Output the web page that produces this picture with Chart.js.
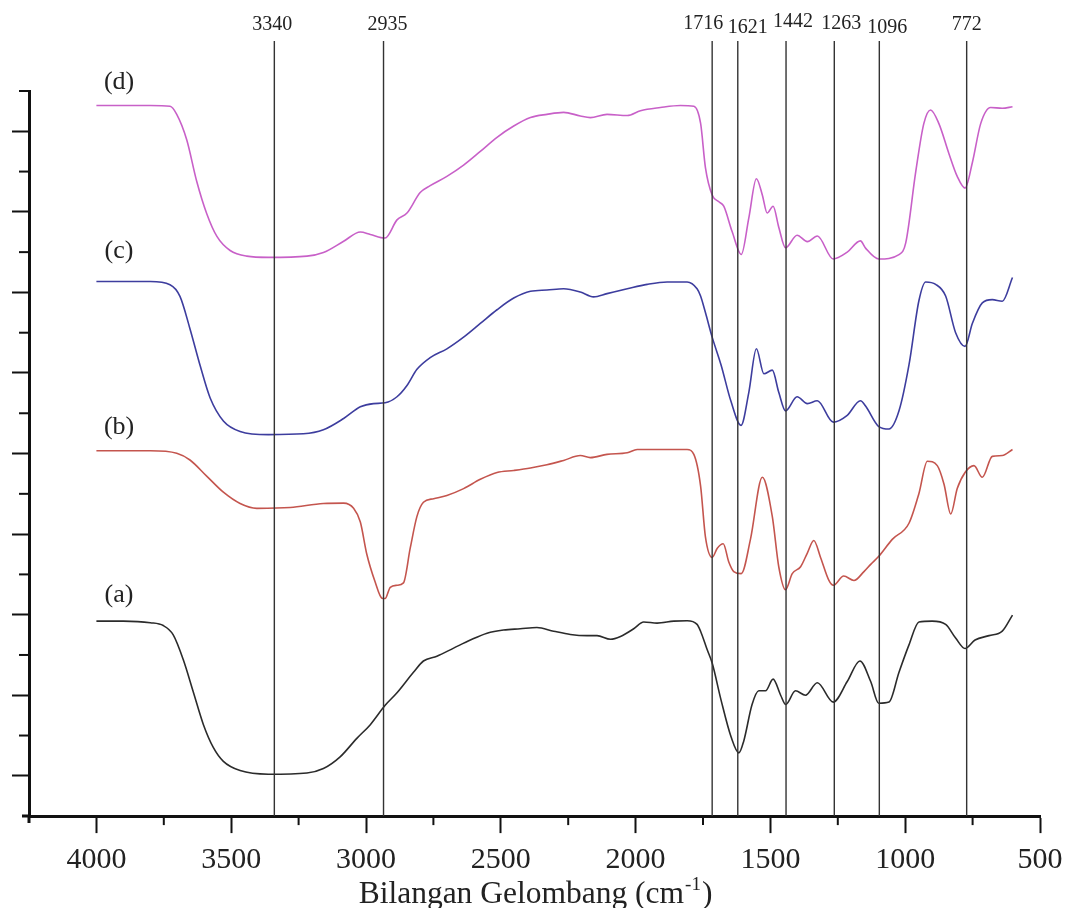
<!DOCTYPE html>
<html>
<head>
<meta charset="utf-8">
<script src="https://cdn.jsdelivr.net/npm/chart.js@4.4.0/dist/chart.umd.min.js"></script>
<style>
  html, body { margin: 0; padding: 0; background: #fff; }
  #wrap { width: 1067px; height: 908px; }
</style>
</head>
<body>
<div id="wrap"><canvas id="ftir" width="1067" height="908"></canvas></div>
<script>
// wavenumbers (cm-1) and offset transmittance, one pair per spectrum
const waveA = [4000, 3900, 3800, 3752, 3715, 3677, 3640, 3603, 3566, 3529, 3467, 3362, 3219, 3158, 3096, 3034, 2984, 2929, 2885, 2824, 2787, 2737, 2675, 2613, 2551, 2490, 2428, 2366, 2304, 2242, 2180, 2143, 2093, 2056, 2007, 1970, 1920, 1858, 1809, 1772, 1759, 1735, 1716, 1683, 1646, 1617, 1599, 1568, 1543, 1518, 1490, 1462, 1443, 1407, 1370, 1326, 1267, 1215, 1168, 1128, 1098, 1060, 1023, 986, 949, 900, 850, 813, 778, 741, 689, 640, 602]
const valA = [4.84, 4.84, 4.80, 4.73, 4.50, 3.87, 3.07, 2.27, 1.70, 1.36, 1.13, 1.04, 1.07, 1.18, 1.47, 1.93, 2.27, 2.75, 3.06, 3.57, 3.85, 3.97, 4.17, 4.37, 4.54, 4.62, 4.65, 4.68, 4.59, 4.51, 4.48, 4.48, 4.39, 4.46, 4.65, 4.82, 4.79, 4.84, 4.85, 4.76, 4.59, 4.14, 3.80, 2.88, 1.97, 1.57, 1.86, 2.77, 3.11, 3.11, 3.40, 3.00, 2.77, 3.11, 3.00, 3.31, 2.83, 3.34, 3.85, 3.34, 2.80, 2.83, 3.57, 4.25, 4.82, 4.84, 4.76, 4.42, 4.16, 4.37, 4.48, 4.59, 4.99]

const waveB = [4000, 3800, 3702, 3653, 3591, 3529, 3467, 3405, 3281, 3158, 3083, 3046, 3021, 2997, 2966, 2941, 2929, 2910, 2885, 2861, 2836, 2811, 2787, 2749, 2700, 2638, 2576, 2514, 2452, 2390, 2329, 2267, 2205, 2168, 2106, 2031, 1994, 1896, 1809, 1784, 1759, 1741, 1716, 1697, 1675, 1654, 1636, 1608, 1574, 1530, 1493, 1469, 1444, 1419, 1388, 1363, 1339, 1314, 1283, 1267, 1228, 1190, 1153, 1128, 1098, 1048, 986, 949, 918, 881, 856, 831, 807, 778, 745, 714, 677, 640, 602]
const valB = [9.07, 9.07, 9.01, 8.84, 8.44, 8.04, 7.76, 7.64, 7.66, 7.76, 7.77, 7.64, 7.30, 6.50, 5.81, 5.41, 5.40, 5.68, 5.73, 5.79, 6.65, 7.44, 7.79, 7.88, 7.96, 8.13, 8.36, 8.53, 8.58, 8.64, 8.72, 8.83, 8.95, 8.90, 8.98, 9.02, 9.10, 9.10, 9.10, 8.98, 8.20, 6.93, 6.42, 6.65, 6.76, 6.30, 6.07, 6.02, 6.87, 8.41, 7.44, 6.19, 5.62, 6.02, 6.19, 6.53, 6.84, 6.42, 5.85, 5.73, 5.96, 5.85, 6.07, 6.25, 6.45, 6.87, 7.27, 8.01, 8.81, 8.70, 8.24, 7.50, 8.13, 8.53, 8.70, 8.41, 8.93, 8.95, 9.10]

const waveC = [4000, 3800, 3727, 3690, 3653, 3615, 3578, 3529, 3467, 3362, 3232, 3158, 3083, 3021, 2972, 2929, 2885, 2848, 2811, 2762, 2700, 2638, 2576, 2514, 2452, 2390, 2329, 2267, 2205, 2156, 2106, 2031, 1957, 1883, 1809, 1772, 1759, 1741, 1716, 1683, 1646, 1609, 1580, 1552, 1524, 1493, 1469, 1444, 1401, 1363, 1326, 1267, 1215, 1166, 1147, 1098, 1060, 1023, 986, 949, 924, 887, 850, 813, 778, 751, 714, 677, 640, 602]
const valC = [13.27, 13.27, 13.19, 12.90, 12.10, 11.18, 10.38, 9.81, 9.55, 9.47, 9.49, 9.59, 9.87, 10.16, 10.24, 10.26, 10.41, 10.69, 11.09, 11.38, 11.60, 11.89, 12.23, 12.57, 12.86, 13.03, 13.06, 13.09, 13.01, 12.89, 12.97, 13.09, 13.20, 13.26, 13.26, 13.09, 12.91, 12.50, 11.89, 11.20, 10.29, 9.70, 10.52, 11.60, 10.98, 11.07, 10.52, 10.06, 10.41, 10.24, 10.31, 9.78, 9.95, 10.31, 10.18, 9.67, 9.61, 10.06, 11.20, 12.80, 13.26, 13.20, 12.91, 12.00, 11.66, 12.23, 12.74, 12.82, 12.78, 13.37]

const waveD = [4000, 3800, 3727, 3702, 3665, 3628, 3591, 3553, 3504, 3442, 3362, 3219, 3158, 3083, 3021, 2984, 2929, 2885, 2848, 2799, 2762, 2700, 2638, 2576, 2514, 2452, 2390, 2329, 2267, 2205, 2168, 2106, 2031, 1982, 1908, 1834, 1784, 1759, 1741, 1716, 1691, 1673, 1642, 1608, 1580, 1552, 1530, 1512, 1490, 1469, 1444, 1401, 1363, 1326, 1267, 1215, 1166, 1147, 1098, 1023, 998, 961, 931, 906, 875, 838, 807, 778, 751, 720, 683, 640, 602]
const valD = [17.64, 17.64, 17.62, 17.42, 16.79, 15.76, 14.96, 14.39, 14.04, 13.90, 13.87, 13.90, 13.99, 14.27, 14.50, 14.44, 14.35, 14.80, 14.97, 15.48, 15.65, 15.88, 16.16, 16.50, 16.85, 17.13, 17.34, 17.42, 17.47, 17.38, 17.34, 17.42, 17.39, 17.51, 17.59, 17.64, 17.62, 17.20, 16.10, 15.42, 15.25, 15.14, 14.51, 13.94, 14.85, 15.82, 15.42, 14.97, 15.14, 14.62, 14.11, 14.42, 14.26, 14.40, 13.83, 14.00, 14.28, 14.10, 13.83, 13.94, 14.23, 15.99, 17.19, 17.53, 17.19, 16.45, 15.88, 15.59, 16.22, 17.19, 17.59, 17.57, 17.61]

const seriesNames = ['(a)', '(b)', '(c)', '(d)']
const peaks = [3340, 2935, 1716, 1621, 1442, 1263, 1096, 772]
const peakLabels = ['3340', '2935', '1716', '1621', '1442', '1263', '1096', '772']
const xTicks = [4000, 3500, 3000, 2500, 2000, 1500, 1000, 500]
const xMinorTicks = [3750, 3250, 2750, 2250, 1750, 1250, 750]
const yMajorTicks = [1, 3, 5, 7, 9, 11, 13, 15, 17]
const yMinorTicks = [2, 4, 6, 8, 10, 12, 14, 16, 18]

// layout only
const colors = ['#2b2b2b', '#c4554e', '#3d3d9e', '#c860c8']
const markerTop = 19.24
const peakLabelShift = [-2, 4, -9, 10, 7, 7, 8, 0]
const peakLabelY = [25, 25, 24, 28, 22, 24, 28, 25]
const nameAnchorX = 3916
const nameAnchorY = [5.49, 9.66, 14.03, 18.22]
const serif = '"Liberation Serif", "Times New Roman", serif'

function toPoints(xs, ys) {
    const pts = []
    for (let i = 0; i < xs.length; i++) {
        pts.push({ x: xs[i], y: ys[i] })
    }
    return pts
}

const datasets = []
peaks.forEach(p => {
    datasets.push({
        data: [{ x: p, y: 0 }, { x: p, y: markerTop }],
        borderColor: '#333',
        borderWidth: 1.4,
        pointRadius: 0,
        clip: false
    })
})
const spectra = [[waveA, valA], [waveB, valB], [waveC, valC], [waveD, valD]]
spectra.forEach((s, i) => {
    datasets.push({
        label: seriesNames[i],
        data: toPoints(s[0], s[1]),
        borderColor: colors[i],
        borderWidth: 1.6,
        pointRadius: 0,
        cubicInterpolationMode: 'monotone'
    })
})

const decor = {
    id: 'decor',
    afterDraw(chart) {
        const ctx = chart.ctx
        const xs = chart.scales.x
        const ys = chart.scales.y
        const area = chart.chartArea
        ctx.save()
        ctx.strokeStyle = '#111'
        ctx.lineWidth = 2
        yMinorTicks.forEach(v => {
            const py = ys.getPixelForValue(v)
            ctx.beginPath()
            ctx.moveTo(area.left, py)
            ctx.lineTo(area.left - 10, py)
            ctx.stroke()
        })
        xMinorTicks.forEach(v => {
            const px = xs.getPixelForValue(v)
            ctx.beginPath()
            ctx.moveTo(px, area.bottom)
            ctx.lineTo(px, area.bottom + 9)
            ctx.stroke()
        })
        ctx.lineWidth = 3
        ctx.beginPath()
        ctx.moveTo(area.left, area.bottom)
        ctx.lineTo(area.left, area.bottom + 7)
        ctx.moveTo(area.left, area.bottom)
        ctx.lineTo(area.left - 7, area.bottom)
        ctx.stroke()

        ctx.fillStyle = '#222'
        ctx.textAlign = 'center'
        ctx.textBaseline = 'middle'
        ctx.font = '20px ' + serif
        peakLabels.forEach((t, i) => {
            ctx.fillText(t, xs.getPixelForValue(peaks[i]) + peakLabelShift[i], peakLabelY[i])
        })
        ctx.font = '26px ' + serif
        seriesNames.forEach((t, i) => {
            ctx.fillText(t, xs.getPixelForValue(nameAnchorX), ys.getPixelForValue(nameAnchorY[i]))
        })

        // axis title with superscript
        const main = 'Bilangan Gelombang (cm'
        const sup = '-1'
        const tail = ')'
        ctx.textAlign = 'left'
        ctx.textBaseline = 'alphabetic'
        ctx.font = '31.5px ' + serif
        const w1 = ctx.measureText(main).width
        const w3 = ctx.measureText(tail).width
        ctx.font = '19px ' + serif
        const w2 = ctx.measureText(sup).width
        let x0 = (area.left + area.right) / 2 - (w1 + w2 + w3) / 2
        ctx.font = '31.5px ' + serif
        ctx.fillText(main, x0, 903)
        ctx.font = '19px ' + serif
        ctx.fillText(sup, x0 + w1 + 1, 890)
        ctx.font = '31.5px ' + serif
        ctx.fillText(tail, x0 + w1 + w2 + 2, 903)
        ctx.restore()
    }
}

new Chart(document.getElementById('ftir'), {
    type: 'line',
    data: { datasets: datasets },
    options: {
        responsive: false,
        animation: false,
        devicePixelRatio: 1,
        layout: { padding: { left: 12, right: 27, top: 91, bottom: 21 } },
        plugins: { legend: { display: false }, tooltip: { enabled: false } },
        scales: {
            x: {
                type: 'linear',
                reverse: true,
                min: 500,
                max: 4250,
                afterBuildTicks: scale => { scale.ticks = xTicks.map(v => ({ value: v })) },
                ticks: {
                    font: { family: serif, size: 30, lineHeight: 1.53 },
                    color: '#222',
                    padding: 4,
                    maxRotation: 0,
                    autoSkip: false,
                    callback: v => String(v)
                },
                grid: { drawOnChartArea: false, drawTicks: true, tickLength: 17, tickWidth: 2, tickColor: '#111' },
                border: { display: true, width: 3, color: '#111' }
            },
            y: {
                type: 'linear',
                min: 0,
                max: 18,
                afterBuildTicks: scale => { scale.ticks = yMajorTicks.map(v => ({ value: v })) },
                ticks: { display: false },
                grid: { drawOnChartArea: false, drawTicks: true, tickLength: 17, tickWidth: 2, tickColor: '#111' },
                border: { display: true, width: 3, color: '#111' }
            }
        }
    },
    plugins: [decor]
})
</script>
</body>
</html>
